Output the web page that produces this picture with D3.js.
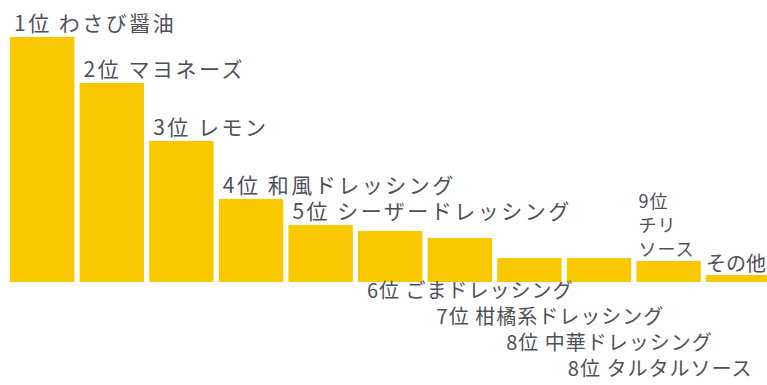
<!DOCTYPE html>
<html>
<head>
<meta charset="utf-8">
<script src="https://cdn.jsdelivr.net/npm/d3@7"></script>
<style>
  body { margin: 0; background: #fff; }
  .lbl { font-family: "Noto Sans CJK JP", sans-serif; font-size: 20px; fill: #505058; }
  .top { font-size: 21px; letter-spacing: 2.5px; }
  .low { letter-spacing: 1px; }
  .stk { font-size: 18px; letter-spacing: 1px; }
</style>
</head>
<body>
<div id="chart"></div>
<script>
// ranking data
var ranks = ["1位", "2位", "3位", "4位", "5位", "6位", "7位", "8位", "8位", "9位", ""];
var names = ["わさび醤油", "マヨネーズ", "レモン", "和風ドレッシング", "シーザードレッシング",
  "ごまドレッシング", "柑橘系ドレッシング", "中華ドレッシング", "タルタルソース", "チリソース", "その他"];
var values = [24.5, 19.9, 14.1, 8.3, 5.7, 5.1, 4.4, 2.4, 2.4, 2.1, 0.7];
// where each label sits: above the bar, below the chart, stacked, or beside
var placement = ["above", "above", "above", "above", "above", "below", "below", "below", "below", "stack", "side"];

var svgWidth = 767;
var svgHeight = 385;
var baseline = 282;

var svg = d3.select("#chart")
  .append("svg")
  .attr("width", svgWidth)
  .attr("height", svgHeight);

var xScale = d3.scaleBand()
  .domain(d3.range(values.length))
  .range([10, 770.4])
  .paddingInner(0.075)
  .paddingOuter(0);

var yScale = d3.scaleLinear()
  .domain([0, d3.max(values)])
  .range([baseline, 37]);

// bars
svg.selectAll("rect")
  .data(values)
  .enter()
  .append("rect")
  .attr("x", (d, i) => xScale(i))
  .attr("y", d => yScale(d))
  .attr("width", xScale.bandwidth())
  .attr("height", d => baseline - yScale(d))
  .attr("fill", "#fac800");

// labels
var belowRow = 0;
values.forEach(function(v, i) {
  var x = xScale(i);
  var top = yScale(v);
  var p = placement[i];
  var label = ranks[i] ? ranks[i] + " " + names[i] : names[i];

  if (p === "above") {
    svg.append("text").attr("class", "lbl top")
      .attr("x", x + 4).attr("y", top - 6)
      .text(label);
  }
  else if (p === "below") {
    svg.append("text").attr("class", "lbl low")
      .attr("x", x + (belowRow === 3 ? 1 : 9))
      .attr("y", baseline + 16 + belowRow * 26)
      .text(label);
    belowRow++;
  }
  else if (p === "stack") {
    // 9位 / チリ / ソース on three lines
    var lines = [ranks[i], "チリ", "ソース"];
    var t = svg.append("text").attr("class", "lbl stk")
      .attr("y", top - 5 - (lines.length - 1) * 24);
    t.selectAll("tspan")
      .data(lines)
      .enter()
      .append("tspan")
      .attr("x", x + 2)
      .attr("dy", (d, k) => k === 0 ? 0 : 24)
      .text(d => d);
  }
  else {
    svg.append("text").attr("class", "lbl")
      .attr("x", x)
      .attr("y", top - 4)
      .text(label);
  }
});
</script>
</body>
</html>
